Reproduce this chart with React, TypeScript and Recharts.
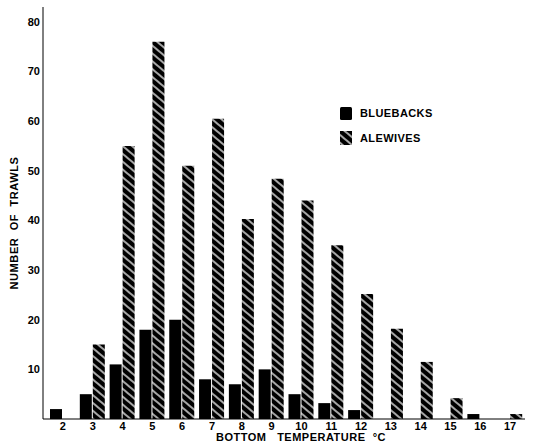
import React from "react";
import { BarChart, Bar, XAxis, YAxis, Label } from "recharts";

const temperatures = ["2", "3", "4", "5", "6", "7", "8", "9", "10", "11", "12", "13", "14", "15", "16", "17"];
const bluebacks = [2, 5, 11, 18, 20, 8, 7, 10, 5, 3.2, 1.8, 0, 0, 0, 1, 0];
const alewives = [0, 15, 55, 76, 51, 60.5, 40.3, 48.4, 44, 35, 25.2, 18.2, 11.5, 4.2, 0, 1];
const yTicks = [10, 20, 30, 40, 50, 60, 70, 80];
const seriesNames = ["BLUEBACKS", "ALEWIVES"];

const data = temperatures.map((t, i) => ({ t, bluebacks: bluebacks[i], alewives: alewives[i] }));

const FONT = "'Liberation Sans', Arial, Helvetica, sans-serif";

const LegendBox = () => (
  <div
    style={{
      position: "absolute",
      left: 340,
      top: 106,
      fontFamily: FONT,
      fontWeight: 700,
      fontSize: 11,
      letterSpacing: 0.4,
      color: "#000",
      lineHeight: "14px",
    }}
  >
    <div style={{ display: "flex", alignItems: "center", height: 14, marginBottom: 11 }}>
      <svg width={12} height={13} style={{ marginRight: 8 }}>
        <rect x={0} y={0} width={12} height={13} rx={1.5} fill="#000" />
      </svg>
      <span>{seriesNames[0]}</span>
    </div>
    <div style={{ display: "flex", alignItems: "center", height: 14 }}>
      <svg width={12} height={14} style={{ marginRight: 8 }}>
        <rect x={0} y={0} width={12} height={14} fill="url(#hatch)" />
      </svg>
      <span>{seriesNames[1]}</span>
    </div>
  </div>
);

export default function App() {
  return (
    <div style={{ position: "absolute", left: 0, top: 0, width: 533, height: 442, background: "#fff" }}>
      <svg width={0} height={0} style={{ position: "absolute" }}>
        <defs>
          <pattern id="hatch" patternUnits="userSpaceOnUse" width={6} height={6} patternTransform="rotate(-50)">
            <rect x={0} y={0} width={6} height={6} fill="#000" />
            <line x1={3} y1={-1} x2={3} y2={7} stroke="#fff" strokeWidth={1.3} />
          </pattern>
        </defs>
      </svg>
      <BarChart
        width={533}
        height={442}
        data={data}
        margin={{ top: 7, right: 8, bottom: 0, left: 0 }}
        barSize={12}
        barGap={1}
      >
        <XAxis
          dataKey="t"
          height={23}
          axisLine={{ stroke: "#000", strokeWidth: 1 }}
          tickLine={false}
          tickSize={0}
          tickMargin={3}
          padding={{ left: 5, right: 0 }}
          tick={{ fontFamily: FONT, fontWeight: 700, fontSize: 11, fill: "#000" }}
          interval={0}
        >
          <Label
            content={() => (
              <text
                x={301}
                y={441}
                textAnchor="middle"
                fontFamily={FONT}
                fontWeight={700}
                fontSize={11}
                letterSpacing={0.5}
                fill="#000"
                style={{ whiteSpace: "pre" }}
              >
                {"BOTTOM   TEMPERATURE  °C"}
              </text>
            )}
          />
        </XAxis>
        <YAxis
          width={43}
          domain={[0, 83]}
          ticks={yTicks}
          axisLine={{ stroke: "#000", strokeWidth: 1 }}
          tickLine={false}
          tickSize={0}
          tickMargin={3}
          tick={{ fontFamily: FONT, fontWeight: 700, fontSize: 11, fill: "#000" }}
          allowDataOverflow
        >
          <Label
            content={() => (
              <text
                x={18}
                y={223}
                transform="rotate(-90, 18, 223)"
                textAnchor="middle"
                fontFamily={FONT}
                fontWeight={700}
                fontSize={11}
                letterSpacing={0.6}
                fill="#000"
                style={{ whiteSpace: "pre" }}
              >
                {"NUMBER  OF  TRAWLS"}
              </text>
            )}
          />
        </YAxis>
        <Bar dataKey="bluebacks" fill="#000" isAnimationActive={false} />
        <Bar dataKey="alewives" fill="url(#hatch)" isAnimationActive={false} />
      </BarChart>
      <LegendBox />
    </div>
  );
}
